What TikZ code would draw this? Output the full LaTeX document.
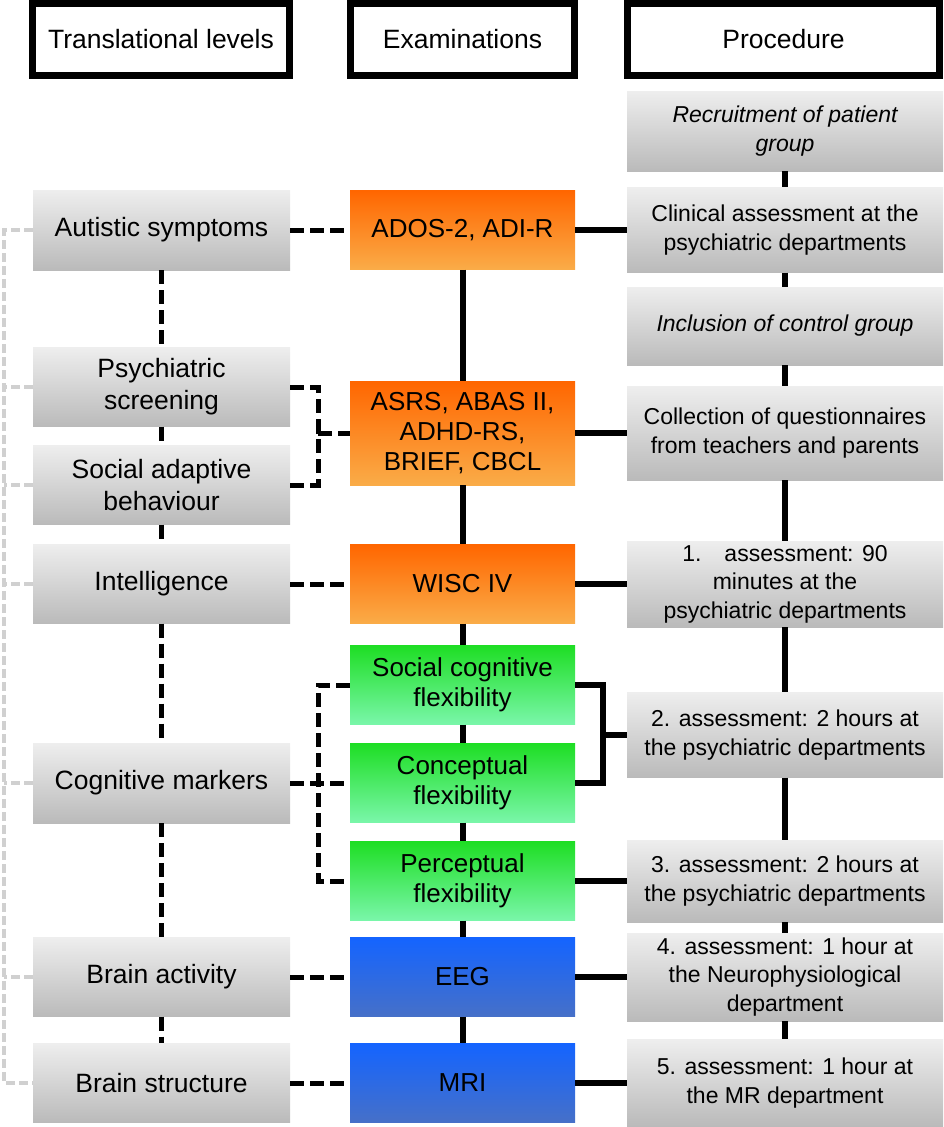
\documentclass[tikz,border=0pt]{standalone}
\usepackage{fontspec}
\setmainfont{Liberation Sans}
\usetikzlibrary{calc}

\definecolor{greytop}{RGB}{238,238,238}
\definecolor{greybot}{RGB}{186,186,186}
\definecolor{orangetop}{RGB}{255,102,0}
\definecolor{orangebot}{RGB}{250,172,72}
\definecolor{greentop}{RGB}{30,222,36}
\definecolor{greenbot}{RGB}{122,246,170}
\definecolor{bluetop}{RGB}{20,100,255}
\definecolor{bluebot}{RGB}{70,112,200}
\definecolor{lightline}{RGB}{208,208,208}

\newcommand{\levelfont}{\fontsize{26.5}{32}\selectfont}
\newcommand{\procfont}{\fontsize{23}{28.5}\selectfont}

\tikzset{
	head/.style={draw=black, line width=7pt, fill=white, inner sep=0pt, minimum height=72pt, font=\levelfont},
	levelbox/.style={top color=greytop, bottom color=greybot, minimum width=257pt, minimum height=79pt, inner sep=0pt, align=center, font=\levelfont},
	exambox/.style={minimum width=225pt, minimum height=79pt, inner sep=0pt, align=center, font=\fontsize{26}{30}\selectfont},
	orangebox/.style={exambox, top color=orangetop, bottom color=orangebot},
	greenbox/.style={exambox, top color=greentop, bottom color=greenbot},
	bluebox/.style={exambox, top color=bluetop, bottom color=bluebot},
	procbox/.style={top color=greytop, bottom color=greybot, minimum width=316pt, inner sep=0pt, align=center, font=\procfont},
	dline/.style={line width=5pt, dash pattern=on 14pt off 6pt},
	sline/.style={line width=6pt},
	gline/.style={line width=4pt, draw=lightline, dash pattern=on 9pt off 4pt},
}

\begin{document}
\begin{tikzpicture}[x=1pt, y=-1pt]
			%%%%% START %%%%%
			\useasboundingbox (0, 0) rectangle (944, 1127);
			
			\node[head, minimum width=257pt] (hlev) at (161, 39.5) {Translational levels};
			\node[head, minimum width=224pt] (hexa) at (462.5, 39.5) {Examinations};
			\node[head, minimum width=312pt] (hpro) at (783.5, 39.5) {Procedure};
			
			% translational levels
			\node[levelbox, minimum height=80pt] (as) at (161.5, 230) {Autistic symptoms};
			\node[levelbox] (ps) at (161.5, 387) {Psychiatric\\screening};
			\node[levelbox] (sab) at (161.5, 485) {Social adaptive\\behaviour};
			\node[levelbox] (int) at (161.5, 584) {Intelligence};
			\node[levelbox, minimum height=80pt] (cm) at (161.5, 783) {Cognitive markers};
			\node[levelbox] (ba) at (161.5, 977) {Brain activity};
			\node[levelbox] (bs) at (161.5, 1083) {Brain structure};
			
			% examinations
			\node[orangebox] (ados) at (462.5, 230) {ADOS-2, ADI-R};
			\node[orangebox, minimum height=104pt] (asrs) at (462.5, 433) {ASRS, ABAS II,\\ADHD-RS,\\BRIEF, CBCL};
			\node[orangebox] (wisc) at (462.5, 584) {WISC IV};
			\node[greenbox] (scf) at (462.5, 685) {Social cognitive\\flexibility};
			\node[greenbox] (cf) at (462.5, 783) {Conceptual\\flexibility};
			\node[greenbox] (pf) at (462.5, 881) {Perceptual\\flexibility};
			\node[bluebox] (eeg) at (462.5, 977) {EEG};
			\node[bluebox] (mri) at (462.5, 1083) {MRI};
			
			% procedure
			\node[procbox, minimum height=80pt, font=\procfont\itshape] (rec) at (785, 131) {Recruitment of patient\\group};
			\node[procbox, minimum height=85pt] (clin) at (785, 230) {Clinical assessment at the\\psychiatric departments};
			\node[procbox, minimum height=78pt, font=\procfont\itshape] (incl) at (785, 326) {Inclusion of control group};
			\node[procbox, minimum height=94pt] (coll) at (785, 433) {Collection of questionnaires\\from teachers and parents};
			\node[procbox, minimum height=86pt] (p1) at (785, 584) {1.\hspace{1em}assessment: 90\\minutes at the\\psychiatric departments};
			\node[procbox, minimum height=85pt] (p2) at (785, 735) {2. assessment: 2 hours at\\the psychiatric departments};
			\node[procbox, minimum height=82pt] (p3) at (785, 881) {3. assessment: 2 hours at\\the psychiatric departments};
			\node[procbox, minimum height=88pt] (p4) at (785, 977) {4. assessment: 1 hour at\\the Neurophysiological\\department};
			\node[procbox, minimum height=87pt] (p5) at (785, 1083) {5. assessment: 1 hour at\\the MR department};
			
			\coordinate (gx) at (4, 0);
			\coordinate (jl) at (318, 433);
			\coordinate (jc) at (318, 783);
			\coordinate (jr) at (603, 735);
			
			% links between levels
			\draw[dline] (as.south) -- (ps.north);
			\draw[dline] (ps.south) -- (sab.north);
			\draw[dline] (sab.south) -- (int.north);
			\draw[dline] (int.south) -- (cm.north);
			\draw[dline] (cm.south) -- (ba.north);
			\draw[dline] (ba.south) -- (bs.north);
			
			\draw[gline] (as.west) -- (as.west -| gx) -- (bs.west -| gx) -- (bs.west);
			\draw[gline] (ps.west) -- (ps.west -| gx);
			\draw[gline] (sab.west) -- (sab.west -| gx);
			\draw[gline] (int.west) -- (int.west -| gx);
			\draw[gline] (cm.west) -- (cm.west -| gx);
			\draw[gline] (ba.west) -- (ba.west -| gx);
			
			% levels to examinations
			\draw[dline] (as.east) -- (ados.west);
			\draw[dline] (ps.east) -| (jl) |- (sab.east);
			\draw[dline] (jl) -- (asrs.west);
			\draw[dline] (int.east) -- (wisc.west);
			\draw[dline] (scf.west) -| (jc) |- (pf.west);
			\draw[dline] (cm.east) -- (cf.west);
			\draw[dline] (ba.east) -- (eeg.west);
			\draw[dline] (bs.east) -- (mri.west);
			
			% examinations column
			\draw[sline] (ados.south) -- (asrs.north);
			\draw[sline] (asrs.south) -- (wisc.north);
			\draw[sline] (wisc.south) -- (scf.north);
			\draw[sline] (scf.south) -- (cf.north);
			\draw[sline] (cf.south) -- (pf.north);
			\draw[sline] (pf.south) -- (eeg.north);
			\draw[sline] (eeg.south) -- (mri.north);
			
			% examinations to procedure
			\draw[sline] (ados.east) -- (clin.west);
			\draw[sline] (asrs.east) -- (coll.west);
			\draw[sline] (wisc.east) -- (p1.west);
			\draw[sline] (scf.east) -| (jr) |- (cf.east);
			\draw[sline] (jr) -- (p2.west);
			\draw[sline] (pf.east) -- (p3.west);
			\draw[sline] (eeg.east) -- (p4.west);
			\draw[sline] (mri.east) -- (p5.west);
			
			% procedure column
			\draw[sline] (rec.south) -- (clin.north);
			\draw[sline] (clin.south) -- (incl.north);
			\draw[sline] (incl.south) -- (coll.north);
			\draw[sline] (coll.south) -- (p1.north);
			\draw[sline] (p1.south) -- (p2.north);
			\draw[sline] (p2.south) -- (p3.north);
			\draw[sline] (p3.south) -- (p4.north);
			\draw[sline] (p4.south) -- (p5.north);
			
			%%%%% END %%%%%
		\end{tikzpicture}
\end{document}
